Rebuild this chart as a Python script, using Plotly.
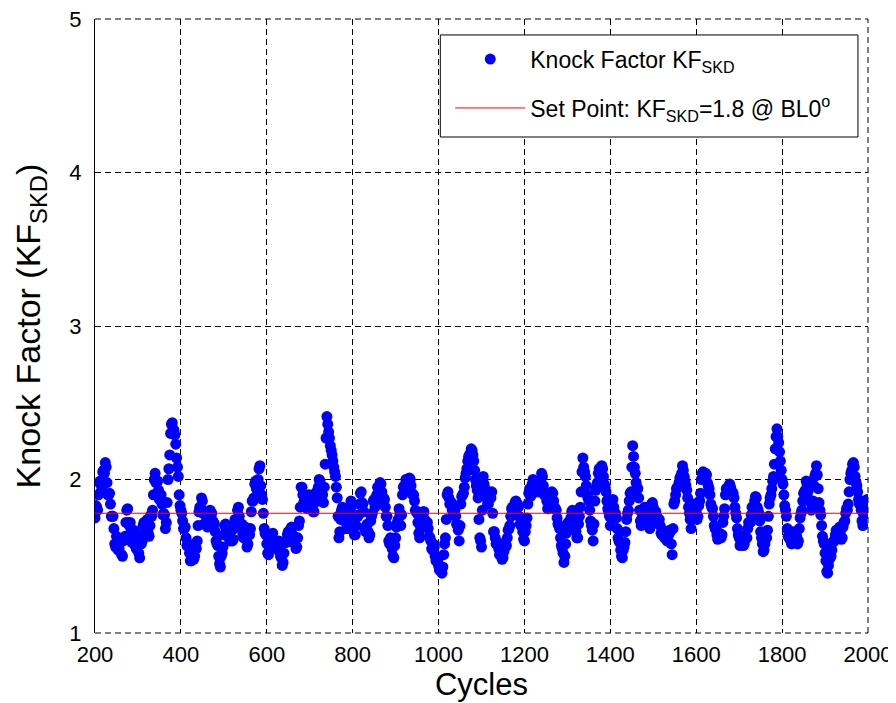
import plotly.graph_objects as go

# Knock factor read every 4 cycles (200, 204, ..., 2000)
kf_even = [
    1.75, 1.82, 1.90, 1.99, 1.95, 2.06, 2.11, 1.98, 1.90, 1.84, 1.76, 1.68, 1.56, 1.62, 1.55, 1.60, 1.50, 1.62, 1.72, 1.81, 1.70, 1.66, 1.60, 1.66, 1.55,
    1.62, 1.49, 1.58, 1.70, 1.66, 1.73, 1.65, 1.70, 1.76, 1.90, 2.04, 1.98, 1.93, 1.88, 1.84, 1.78, 1.68, 1.85, 2.07, 2.30, 2.37, 2.32, 2.23, 2.08, 1.90,
    1.80, 1.73, 1.68, 1.62, 1.58, 1.52, 1.47, 1.52, 1.50, 1.55, 1.70, 1.82, 1.88, 1.78, 1.71, 1.75, 1.70, 1.80, 1.78, 1.72, 1.66, 1.58, 1.50, 1.43, 1.52,
    1.64, 1.71, 1.68, 1.62, 1.66, 1.60, 1.68, 1.72, 1.80, 1.76, 1.70, 1.64, 1.68, 1.62, 1.58, 1.64, 1.79, 1.86, 1.97, 1.94, 2.00, 2.09, 1.90, 1.78, 1.65,
    1.58, 1.51, 1.56, 1.64, 1.60, 1.58, 1.55, 1.60, 1.50, 1.44, 1.52, 1.60, 1.64, 1.62, 1.68, 1.64, 1.60, 1.55, 1.62, 1.73, 1.95, 1.90, 1.86, 1.82, 1.86,
    1.88, 1.82, 1.79, 1.85, 1.92, 1.95, 1.99, 1.90, 1.85, 2.10, 2.41, 2.31, 2.22, 2.16, 2.08, 2.02, 1.88, 1.62, 1.74, 1.82, 1.76, 1.72, 1.68, 1.78, 1.86,
    1.75, 1.64, 1.70, 1.76, 1.84, 1.92, 1.84, 1.68, 1.70, 1.66, 1.64, 1.76, 1.86, 1.82, 1.90, 1.95, 1.98, 1.92, 1.88, 1.82, 1.76, 1.60, 1.62, 1.55, 1.49,
    1.62, 1.72, 1.81, 1.70, 1.90, 1.96, 2.00, 1.96, 2.01, 1.96, 1.90, 1.86, 1.79, 1.72, 1.62, 1.70, 1.79, 1.74, 1.72, 1.68, 1.62, 1.55, 1.58, 1.50, 1.47,
    1.44, 1.42, 1.39, 1.51, 1.62, 1.90, 1.88, 1.84, 1.80, 1.78, 1.76, 1.70, 1.60, 1.84, 1.90, 1.95, 2.04, 2.12, 2.16, 2.20, 2.16, 2.06, 1.96, 1.88, 1.62,
    1.56, 2.02, 1.94, 1.88, 1.84, 1.88, 1.92, 1.66, 1.62, 1.58, 1.55, 1.52, 1.48, 1.53, 1.56, 1.62, 1.68, 1.76, 1.82, 1.80, 1.86, 1.84, 1.76, 1.70, 1.66,
    1.60, 1.70, 1.84, 1.94, 1.90, 2.00, 1.94, 1.97, 1.92, 1.98, 2.04, 1.96, 1.90, 1.86, 1.81, 1.86, 1.92, 1.86, 1.81, 1.75, 1.70, 1.62, 1.55, 1.46, 1.58,
    1.68, 1.72, 1.75, 1.80, 1.78, 1.66, 1.62, 1.76, 1.92, 2.14, 2.05, 1.96, 1.88, 1.80, 1.70, 1.60, 1.86, 1.96, 2.04, 2.06, 2.09, 2.02, 1.95, 1.86, 1.79,
    1.70, 1.86, 1.82, 1.78, 1.68, 1.60, 1.54, 1.49, 1.56, 1.66, 1.78, 1.86, 1.92, 2.22, 2.08, 1.98, 1.94, 1.80, 1.70, 1.76, 1.82, 1.78, 1.72, 1.68, 1.84,
    1.82, 1.77, 1.76, 1.73, 1.70, 1.64, 1.66, 1.62, 1.60, 1.64, 1.66, 1.51, 1.84, 1.90, 1.95, 1.98, 2.02, 2.09, 2.02, 1.96, 1.88, 1.78, 1.68, 1.83, 1.80,
    1.79, 1.76, 1.86, 2.00, 2.05, 2.02, 2.03, 1.96, 1.90, 1.82, 1.76, 1.68, 1.64, 1.62, 1.64, 1.64, 1.76, 1.90, 1.94, 1.96, 1.95, 1.92, 1.88, 1.78, 1.68,
    1.62, 1.58, 1.62, 1.58, 1.62, 1.68, 1.72, 1.77, 1.82, 1.86, 1.88, 1.80, 1.73, 1.62, 1.53, 1.58, 1.62, 1.76, 1.88, 1.94, 2.02, 2.20, 2.33, 2.24, 2.12,
    2.00, 1.90, 1.80, 1.68, 1.62, 1.60, 1.62, 1.64, 1.62, 1.58, 1.68, 1.78, 1.86, 1.92, 1.99, 1.92, 1.86, 1.80, 1.86, 2.02, 2.09, 1.94, 1.80, 1.70, 1.60,
    1.52, 1.40, 1.44, 1.49, 1.54, 1.60, 1.64, 1.66, 1.68, 1.64, 1.62, 1.72, 1.78, 1.80, 1.92, 2.04, 2.10, 2.08, 1.98, 1.92, 1.84, 1.80, 1.70, 1.80, 1.86,
    1.83,
]

# Knock factor read at the in-between cycles (202, 206, ..., 1998)
kf_odd = [
    1.83, 1.80, 1.98, 1.92, 2.05, 2.04, 2.08, 1.90, 1.91, 1.76, 1.76, 1.58, 1.63, 1.54, 1.61, 1.51, 1.60, 1.63, 1.80, 1.72, 1.72, 1.59, 1.67, 1.57, 1.62,
    1.52, 1.58, 1.60, 1.72, 1.65, 1.74, 1.63, 1.77, 1.80, 2.00, 1.98, 1.99, 1.87, 1.90, 1.77, 1.77, 1.72, 2.00, 2.16, 2.36, 2.33, 2.29, 2.14, 2.02, 1.83,
    1.78, 1.68, 1.69, 1.57, 1.58, 1.47, 1.53, 1.48, 1.56, 1.60, 1.79, 1.82, 1.86, 1.71, 1.77, 1.69, 1.78, 1.76, 1.73, 1.71, 1.60, 1.57, 1.45, 1.50, 1.56,
    1.70, 1.66, 1.69, 1.60, 1.67, 1.61, 1.74, 1.72, 1.82, 1.70, 1.71, 1.62, 1.69, 1.56, 1.65, 1.68, 1.86, 1.88, 1.99, 1.93, 2.07, 1.96, 1.87, 1.68, 1.64,
    1.52, 1.56, 1.57, 1.65, 1.56, 1.60, 1.54, 1.58, 1.49, 1.46, 1.59, 1.59, 1.66, 1.62, 1.69, 1.59, 1.61, 1.56, 1.70, 1.82, 1.95, 1.85, 1.87, 1.81, 1.90,
    1.83, 1.84, 1.79, 1.91, 1.90, 2.00, 1.92, 1.90, 1.95, 2.27, 2.36, 2.27, 2.19, 2.12, 2.05, 1.95, 1.76, 1.66, 1.80, 1.77, 1.77, 1.68, 1.75, 1.80, 1.83,
    1.72, 1.64, 1.76, 1.77, 1.91, 1.85, 1.79, 1.66, 1.71, 1.62, 1.73, 1.78, 1.87, 1.83, 1.95, 1.93, 1.97, 1.87, 1.87, 1.76, 1.70, 1.58, 1.61, 1.50, 1.57,
    1.69, 1.74, 1.78, 1.77, 1.95, 1.95, 2.00, 1.96, 2.00, 1.91, 1.90, 1.80, 1.78, 1.65, 1.69, 1.72, 1.79, 1.71, 1.72, 1.63, 1.60, 1.54, 1.56, 1.47, 1.47,
    1.41, 1.43, 1.43, 1.58, 1.74, 1.92, 1.84, 1.85, 1.77, 1.80, 1.71, 1.67, 1.70, 1.89, 1.91, 2.01, 2.07, 2.15, 2.17, 2.19, 2.12, 2.00, 1.93, 1.74, 1.60,
    1.80, 1.97, 1.92, 1.84, 1.88, 1.88, 1.78, 1.66, 1.58, 1.59, 1.51, 1.52, 1.49, 1.56, 1.57, 1.67, 1.70, 1.81, 1.79, 1.85, 1.83, 1.82, 1.71, 1.70, 1.61,
    1.66, 1.75, 1.91, 1.89, 1.97, 1.94, 1.98, 1.92, 1.97, 1.99, 2.02, 1.90, 1.90, 1.81, 1.86, 1.87, 1.91, 1.82, 1.80, 1.71, 1.68, 1.57, 1.52, 1.50, 1.65,
    1.72, 1.71, 1.79, 1.77, 1.74, 1.62, 1.71, 1.82, 2.05, 2.08, 2.02, 1.90, 1.86, 1.73, 1.67, 1.71, 1.93, 1.98, 2.07, 2.05, 2.07, 1.97, 1.92, 1.81, 1.76,
    1.76, 1.87, 1.78, 1.75, 1.62, 1.59, 1.50, 1.54, 1.59, 1.74, 1.80, 1.91, 2.08, 2.15, 2.04, 1.95, 1.88, 1.73, 1.75, 1.77, 1.82, 1.73, 1.72, 1.74, 1.85,
    1.78, 1.79, 1.72, 1.74, 1.65, 1.67, 1.62, 1.63, 1.60, 1.67, 1.58, 1.68, 1.86, 1.94, 1.95, 2.01, 2.04, 2.06, 1.99, 1.93, 1.82, 1.74, 1.74, 1.84, 1.78,
    1.74, 1.83, 1.91, 2.04, 2.01, 2.04, 1.98, 1.94, 1.84, 1.81, 1.70, 1.68, 1.61, 1.65, 1.62, 1.72, 1.81, 1.94, 1.93, 1.97, 1.92, 1.91, 1.82, 1.75, 1.64,
    1.57, 1.63, 1.57, 1.63, 1.62, 1.72, 1.72, 1.82, 1.81, 1.89, 1.82, 1.78, 1.66, 1.58, 1.54, 1.62, 1.67, 1.84, 1.90, 1.99, 2.10, 2.28, 2.28, 2.18, 2.06,
    1.97, 1.83, 1.76, 1.63, 1.63, 1.58, 1.66, 1.60, 1.63, 1.60, 1.75, 1.80, 1.91, 1.93, 1.97, 1.87, 1.85, 1.81, 1.96, 2.04, 2.03, 1.85, 1.77, 1.63, 1.58,
    1.47, 1.39, 1.48, 1.50, 1.59, 1.60, 1.67, 1.65, 1.69, 1.61, 1.69, 1.73, 1.81, 1.84, 2.00, 2.06, 2.11, 2.02, 1.96, 1.87, 1.84, 1.73, 1.77, 1.81, 1.87,
]

first_cycle = 200
cycles_even = [first_cycle + 4 * i for i in range(len(kf_even))]
cycles_odd = [first_cycle + 2 + 4 * i for i in range(len(kf_odd))]

cycles = []
knock_factor = []
for i, v in enumerate(kf_even):
    cycles.append(cycles_even[i]); knock_factor.append(v)
    if i < len(kf_odd):
        cycles.append(cycles_odd[i]); knock_factor.append(kf_odd[i])

set_point = 1.78
x_range = [200, 2000]
y_range = [1, 5]
x_ticks = [200, 400, 600, 800, 1000, 1200, 1400, 1600, 1800, 2000]
y_ticks = [1, 2, 3, 4, 5]

font_main = "Liberation Sans, Arial, sans-serif"
dash = "6px,4px"

fig = go.Figure()
fig.add_trace(go.Scatter(
    x=cycles, y=knock_factor, mode="markers",
    marker=dict(color="#0000FF", size=11, line=dict(width=0)),
    name="Knock Factor KF<sub>SKD</sub>", legendgroup="a",
))
fig.add_trace(go.Scatter(
    x=x_range, y=[set_point, set_point], mode="lines",
    line=dict(color="#FF0000", width=1),
    name="Set Point: KF<sub>SKD</sub>=1.8 @ BL0<sup>o</sup>", legendgroup="b",
))

grid_common = dict(
    showgrid=True, gridcolor="black", gridwidth=1, griddash=dash,
    zeroline=False, ticks="", automargin=False, ticklabeloverflow="allow",
)

# page has an 8px body margin, so the figure is 8px smaller than the window
fig.update_layout(
    width=888, height=695,
    paper_bgcolor="white", plot_bgcolor="white",
    margin=dict(l=86.5, r=28, t=11, b=70),
    showlegend=True,
    legend=dict(
        x=0.4596, y=0.9697, xanchor="left", yanchor="top",
        bgcolor="rgba(0,0,0,0)", borderwidth=0,
        font=dict(family=font_main, size=23, color="black"),
        itemwidth=70, tracegroupgap=16,
    ),
    shapes=[
        dict(type="line", xref="paper", yref="paper", x0=0, x1=1, y0=1, y1=1,
             line=dict(color="black", width=1, dash=dash), layer="above"),
        dict(type="line", xref="paper", yref="paper", x0=0, x1=1, y0=0, y1=0,
             line=dict(color="black", width=1, dash=dash), layer="above"),
        dict(type="line", xref="paper", yref="paper", x0=1, x1=1, y0=0, y1=1,
             line=dict(color="black", width=1, dash=dash), layer="above"),
        dict(type="rect", xref="paper", yref="paper",
             x0=0.4467, x1=0.987, y0=0.8078, y1=0.974,
             line=dict(color="black", width=1), fillcolor="white", layer="above"),
    ],
    xaxis=dict(
        range=x_range, tickvals=x_ticks, ticktext=[str(t) for t in x_ticks],
        showline=False, ticklabelstandoff=6,
        tickfont=dict(family=font_main, size=22, color="black"),
        title=dict(text="Cycles", font=dict(family=font_main, size=31, color="black"), standoff=6),
        **grid_common,
    ),
    yaxis=dict(
        range=y_range, tickvals=y_ticks, ticktext=[str(t) for t in y_ticks],
        showline=True, linecolor="black", linewidth=1, mirror=False,
        ticklabelstandoff=8,
        tickfont=dict(family=font_main, size=22, color="black"),
        title=dict(text="Knock Factor (KF<sub>SKD</sub>)", font=dict(family=font_main, size=34, color="black"), standoff=18),
        **grid_common,
    ),
)

fig.write_html("out.html")
